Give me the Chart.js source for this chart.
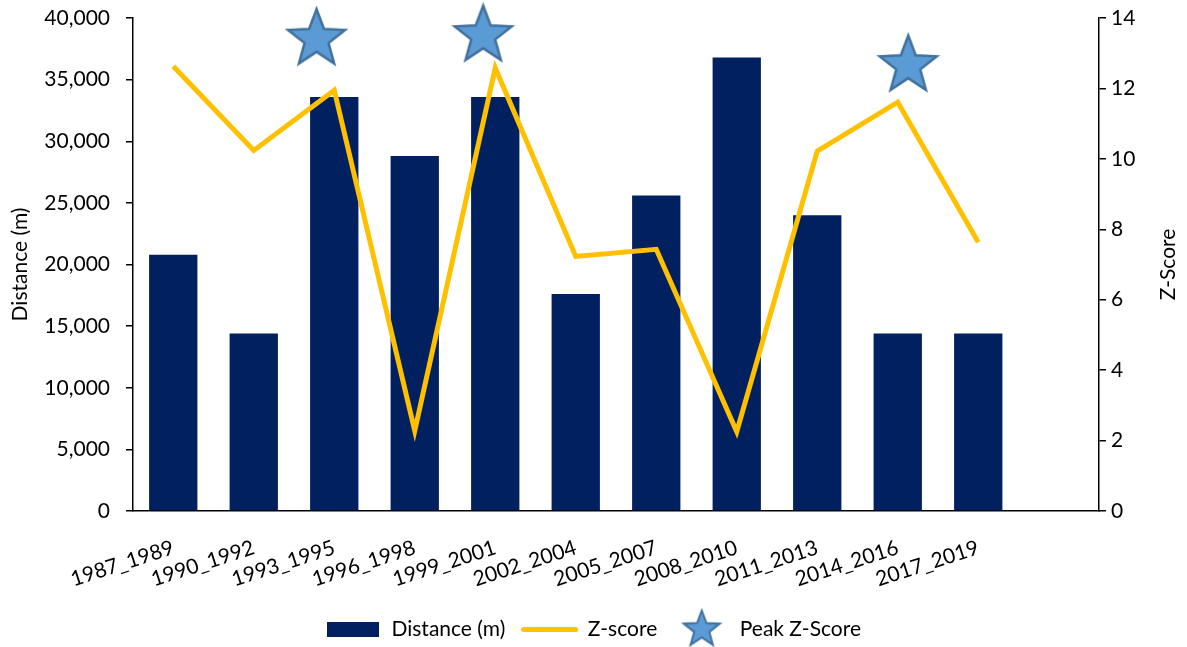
<!DOCTYPE html>
<html>
<head>
<meta charset="utf-8">
<script src="https://cdn.jsdelivr.net/npm/chart.js@4"></script>
<style>
  html, body { margin: 0; padding: 0; background: #fff; }
</style>
</head>
<body>
<canvas id="distanceChart" width="1187" height="647"></canvas>
<script>
// periods along the x axis (last slot left empty)
const periods = ['1987_1989', '1990_1992', '1993_1995', '1996_1998', '1999_2001', '2002_2004',
  '2005_2007', '2008_2010', '2011_2013', '2014_2016', '2017_2019', ''];
const distance = [20800, 14400, 33600, 28800, 33600, 17600, 25600, 36800, 24000, 14400, 14400, null];
const zScore = [12.63, 10.24, 11.95, 2.28, 12.58, 7.23, 7.43, 2.25, 10.22, 11.61, 7.63, null];
// peak markers: position along the period axis and z value
const peakPos = [1.78, 3.85, 9.13];
const peakZ = [13.4, 13.5, 12.65];

const navy = '#002060';
const gold = '#FFC000';
const starFill = '#5B9BD5';
const starEdge = '#41719C';
const font = 'Lato, "Open Sans", sans-serif';
const fontSize = 21;

function makeStar(r, ratio, lw) {
  const size = Math.ceil(2 * r + lw * 2 + 2);
  const c = document.createElement('canvas');
  c.width = size; c.height = size;
  const g = c.getContext('2d');
  const cx = size / 2, cy = size / 2;
  g.beginPath();
  for (let i = 0; i < 10; i++) {
    const rad = i % 2 === 0 ? r : r * ratio;
    const a = -Math.PI / 2 + i * Math.PI / 5;
    const x = cx + rad * Math.cos(a), y = cy + rad * Math.sin(a);
    if (i === 0) g.moveTo(x, y); else g.lineTo(x, y);
  }
  g.closePath();
  g.fillStyle = starFill;
  g.fill();
  g.lineWidth = lw;
  g.strokeStyle = starEdge;
  g.stroke();
  return c;
}

function makeRect(w, h, color) {
  const c = document.createElement('canvas');
  c.width = w; c.height = h;
  const g = c.getContext('2d');
  g.fillStyle = color;
  g.fillRect(0, 0, w, h);
  return c;
}

function makeLine(w, lw, color) {
  const c = document.createElement('canvas');
  c.width = w; c.height = lw + 2;
  const g = c.getContext('2d');
  g.strokeStyle = color;
  g.lineWidth = lw;
  g.lineCap = 'round';
  g.beginPath();
  g.moveTo(lw / 2, c.height / 2);
  g.lineTo(w - lw / 2, c.height / 2);
  g.stroke();
  return c;
}

const bigStar = makeStar(30, 0.42, 2.5);
const legendStar = makeStar(19, 0.42, 2);
const legendBar = makeRect(52, 15, navy);
const legendLine = makeLine(57, 5, gold);

// right axis title reads bottom-to-top like the left one
const rightTitle = {
  id: 'rightTitle',
  afterDraw(chart) {
    const s = chart.scales.y1;
    const ctx = chart.ctx;
    ctx.save();
    ctx.translate(s.right - 19, (s.top + s.bottom) / 2);
    ctx.rotate(-Math.PI / 2);
    ctx.font = fontSize + 'px ' + font;
    ctx.fillStyle = '#000';
    ctx.textAlign = 'center';
    ctx.textBaseline = 'middle';
    ctx.fillText('Z-Score', 0, 0);
    ctx.restore();
  }
};

// fixed axis sizes, no extra label padding around the plot
const fixWidth = w => s => { s.width = w; s.paddingTop = 0; s.paddingBottom = 0; };

const ctx = document.getElementById('distanceChart').getContext('2d');
new Chart(ctx, {
  type: 'bar',
  data: {
    labels: periods,
    datasets: [
      {
        type: 'scatter',
        label: 'Peak Z-Score',
        data: peakPos.map((p, i) => ({ x: p, y: peakZ[i] })),
        xAxisID: 'xPeak',
        yAxisID: 'y1',
        pointStyle: bigStar,
        clip: false,
        order: 0
      },
      {
        type: 'line',
        label: 'Z-score',
        data: zScore,
        yAxisID: 'y1',
        borderColor: gold,
        borderWidth: 5,
        pointRadius: 0,
        tension: 0,
        fill: false,
        order: 1
      },
      {
        type: 'bar',
        label: 'Distance (m)',
        data: distance,
        yAxisID: 'y',
        backgroundColor: navy,
        grouped: false,
        barPercentage: 0.6,
        categoryPercentage: 1,
        order: 2
      }
    ]
  },
  options: {
    responsive: false,
    animation: false,
    layout: { autoPadding: false, padding: { top: 18, bottom: -3, left: 0, right: 0 } },
    plugins: {
      tooltip: { enabled: false },
      legend: {
        position: 'bottom',
        labels: {
          usePointStyle: true,
          pointStyleWidth: 55,
          padding: 17,
          color: '#000',
          font: { family: font, size: fontSize },
          generateLabels: () => [
            { text: 'Distance (m)', pointStyle: legendBar, lineWidth: 0, hidden: false, datasetIndex: 2 },
            { text: 'Z-score', pointStyle: legendLine, lineWidth: 0, hidden: false, datasetIndex: 1 },
            { text: 'Peak Z-Score', pointStyle: legendStar, lineWidth: 0, hidden: false, datasetIndex: 0 }
          ]
        }
      }
    },
    scales: {
      x: {
        offset: true,
        grid: { display: false },
        border: { color: '#000', width: 1.5 },
        ticks: {
          color: '#000',
          font: { family: font, size: fontSize },
          minRotation: 18,
          maxRotation: 18,
          autoSkip: false,
          padding: 16
        },
        afterFit: s => { s.height = 91; s.paddingLeft = 0; s.paddingRight = 0; }
      },
      xPeak: {
        type: 'linear',
        display: false,
        offset: false,
        min: -0.5,
        max: 11.5
      },
      y: {
        position: 'left',
        min: 0,
        max: 40000,
        ticks: {
          stepSize: 5000,
          color: '#000',
          padding: 16,
          font: { family: font, size: fontSize },
          callback: v => v.toLocaleString('en-US')
        },
        grid: { drawOnChartArea: false, color: '#000', lineWidth: 1.5, tickLength: 7 },
        border: { color: '#000', width: 1.5 },
        title: {
          display: true,
          text: 'Distance (m)',
          color: '#000',
          font: { family: font, size: fontSize },
          padding: { top: 8, bottom: 0 }
        },
        afterFit: fixWidth(133)
      },
      y1: {
        position: 'right',
        min: 0,
        max: 14,
        ticks: {
          stepSize: 2,
          color: '#000',
          padding: 5,
          font: { family: font, size: fontSize }
        },
        grid: { drawOnChartArea: false, color: '#000', lineWidth: 1.5, tickLength: 7 },
        border: { color: '#000', width: 1.5 },
        afterFit: fixWidth(88)
      }
    }
  },
  plugins: [rightTitle]
});
</script>
</body>
</html>
